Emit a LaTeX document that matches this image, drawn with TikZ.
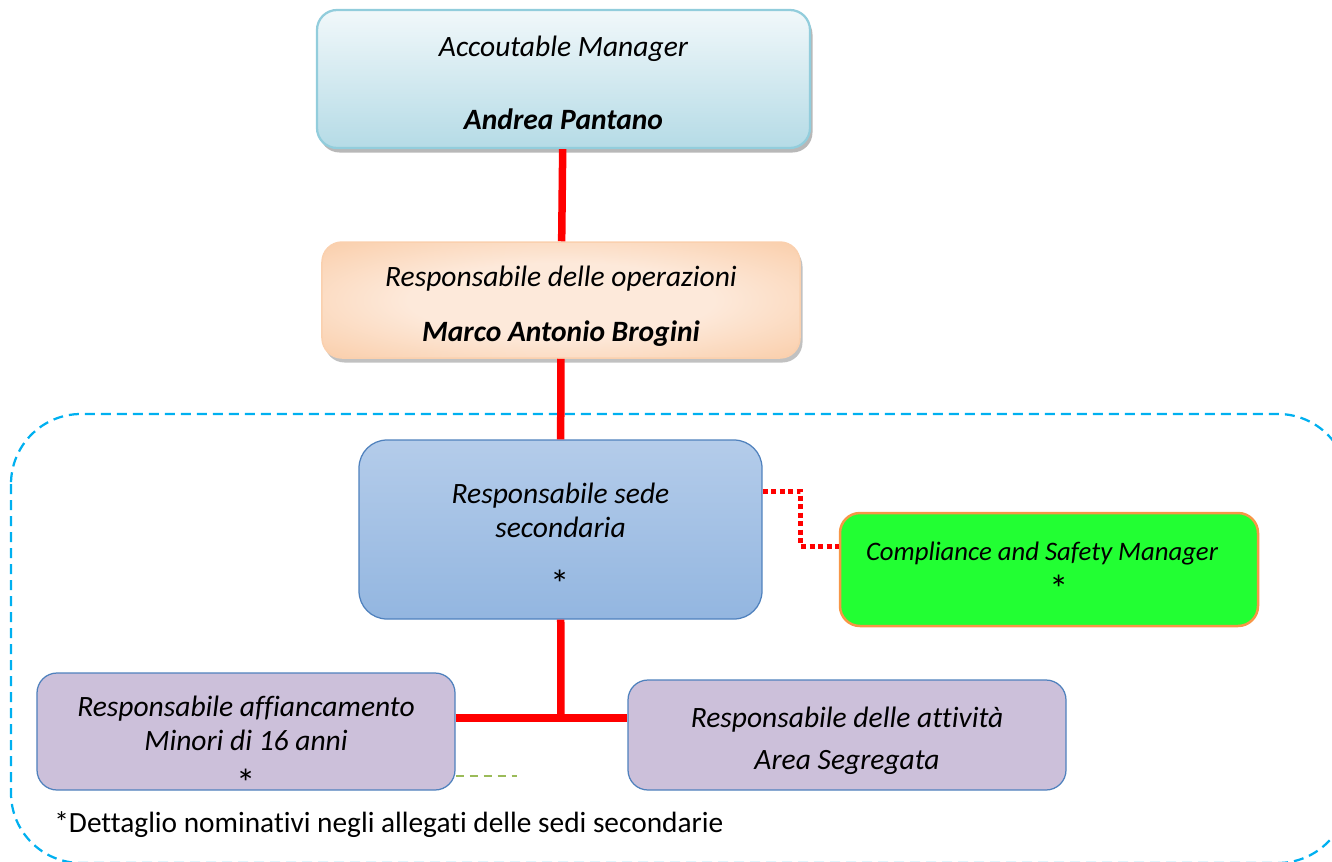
\documentclass[tikz,border=0pt]{standalone}
\usepackage{fontspec}
\setmainfont{Carlito}[Ligatures=NoCommon]
\usetikzlibrary{shadows}
\definecolor{amtop}{HTML}{F1F8FA}
\definecolor{ambot}{HTML}{B5DBE6}
\definecolor{amline}{HTML}{92CDDC}
\definecolor{opslight}{HTML}{FDE9DA}
\definecolor{opsmid}{HTML}{FAD0AE}
\definecolor{opsdark}{HTML}{F6B584}
\definecolor{sedetop}{HTML}{B4CCEA}
\definecolor{sedebot}{HTML}{93B6E0}
\definecolor{boxline}{HTML}{4F81BD}
\definecolor{safegreen}{HTML}{22FF33}
\definecolor{safeline}{HTML}{F79646}
\definecolor{lilac}{HTML}{CCC0DA}
\definecolor{areacyan}{HTML}{00B0F0}
\definecolor{dashgreen}{HTML}{9BBB59}
\pgfdeclareradialshading{opsglow}{\pgfpoint{0bp}{0bp}}{color(0bp)=(opslight); color(16bp)=(opslight); color(34bp)=(opsmid); color(50bp)=(opsdark); color(71bp)=(opsdark)}
\newcommand{\notestar}{{\fontsize{22}{20}\selectfont\upshape *}}

\begin{document}
\begin{tikzpicture}[x=0.2mm,y=-0.2mm]
	\tikzset{
		box/.style={rectangle, rounded corners=4mm, align=flush center, inner sep=0pt, font=\fontsize{16.8}{20}\selectfont\itshape},
		redlink/.style={draw=red, line width=1.5mm},
		reddots/.style={draw=red, line width=1mm, dash pattern=on 1mm off 0.7mm},
		boxshadow/.style={drop shadow={shadow xshift=0.5mm, shadow yshift=-0.9mm, fill=#1, opacity=0.8}}
	}
	\clip (0,0) rectangle (1332,861);
	\draw[areacyan, line width=0.45mm, dash pattern=on 2mm off 1.2mm, rounded corners=14mm] (11,414) rectangle (1348,863);

	\node[box, boxshadow=gray!70, top color=amtop, bottom color=ambot, draw=amline, line width=0.45mm, text width=98.6mm, text height=9.2mm, text depth=18.4mm] (acc) at (563.5,79) {Accoutable Manager\\[7.7mm]\textbf{Andrea Pantano}};
	\node[box, boxshadow=gray!60, shading=opsglow, draw=opsmid, line width=0.3mm, text width=95.6mm, text height=8.8mm, text depth=14.4mm] (ops) at (561,300) {Responsabile delle operazioni\\[4mm]\textbf{Marco Antonio Brogini}};
	\node[box, rounded corners=5.6mm, top color=sedetop, bottom color=sedebot, draw=boxline, line width=0.25mm, text width=80.6mm, text height=12.6mm, text depth=23.2mm] (sede) at (560.5,529.5) {Responsabile sede\\[-0.05mm]secondaria\\[4.85mm]\notestar};
	\node[box, fill=safegreen, draw=safeline, line width=0.5mm, text width=83.6mm, text height=9.4mm, text depth=13.2mm, font=\fontsize{15.2}{18}\selectfont\itshape] (safety) at (1049,569.5) {\hspace*{-2.8mm}Compliance and Safety Manager\\[1.8mm]\hspace*{4mm}\notestar};
	\node[box, fill=lilac, draw=boxline, line width=0.25mm, text width=83.6mm, text height=8.6mm, text depth=14.8mm] (minori) at (246,731.5) {Responsabile affiancamento\\[-0.05mm]Minori di 16 anni\\[2mm]\notestar};
	\node[box, fill=lilac, draw=boxline, line width=0.25mm, text width=87.6mm, text height=9.4mm, text depth=12.6mm] (area) at (847,735) {Responsabile delle attivit\`a\\[1.5mm]Area Segregata};

	\coordinate (split) at (561,718);
	\draw[redlink] (acc) -- (ops);
	\draw[redlink] (ops) -- (sede);
	\draw[redlink] (sede) -- (split);
	\draw[redlink] (split -| minori.east) -- (split -| area.west);
	\draw[reddots] ([yshift=7.7mm]sede.east) -- ++(7.6mm,0) |- ([yshift=4.7mm]safety.west);
	\coordinate (loose) at (517,776);
	\draw[dashgreen, line width=0.4mm, dash pattern=on 1.6mm off 1.2mm] (loose -| minori.east) -- (loose);

	\node[anchor=base west, inner sep=0pt, font=\fontsize{16.7}{20}\selectfont] (note) at (54,832) {*Dettaglio nominativi negli allegati delle sedi secondarie};
\end{tikzpicture}
\end{document}
